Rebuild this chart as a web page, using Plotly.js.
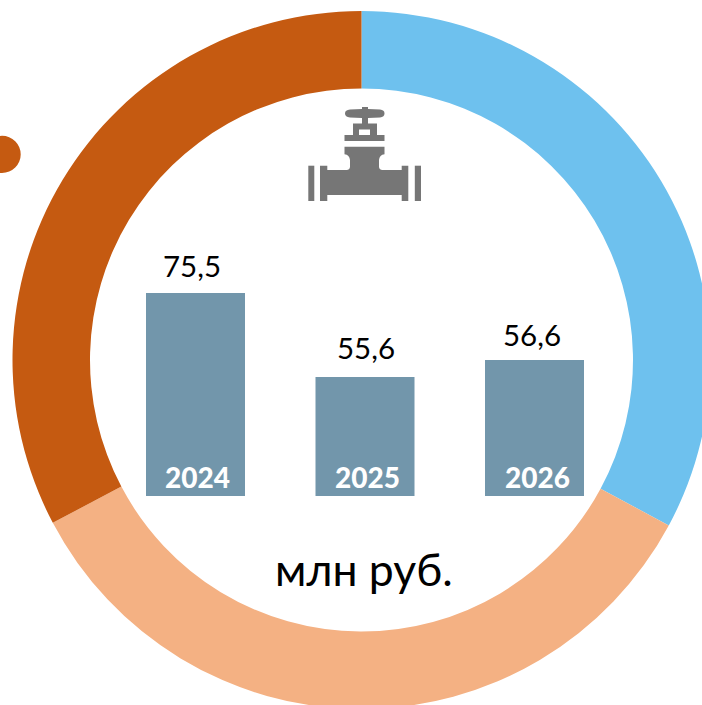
<!DOCTYPE html>
<html><head><meta charset="utf-8">
<script src="https://cdn.plot.ly/plotly-3.0.1.min.js"></script>
<style>html,body{margin:0;padding:0;width:702px;height:705px;overflow:hidden;background:#fff}</style>
</head><body><div id="chart"></div>
<script>
// Data
const ringLabels = ['A', 'B', 'C'];
const ringValues = [118.3, 123.9, 117.8];
const ringColors = ['#6EC1EE', '#F4B183', '#C55A11'];
const years = ['2024', '2025', '2026'];
const valueLabels = ['75,5', '55,6', '56,6'];
// Drawn bar heights as pictured (the source bars are not to the scale of their labels)
const barHeights = [75.5, 44.3, 50.6];
const unitText = 'млн руб.';

// Page geometry: figure slightly larger than the window, so the ring runs off the edge as in the reference
const W = 722, H = 720;
const px = x => x / W, py = y => 1 - y / H;
const P = (s) => s.replace(/(-?[\d.]+) (-?[\d.]+)/g, (m, a, b) => px(+a).toFixed(5) + ' ' + py(+b).toFixed(5));
const grey = '#767676';
const iconPaths = [
  'M345 113.5 Q345 110 350 109.6 L362 109 L362 107 L368 107 L368 109 L380 109.6 Q384.5 110 384.5 113.5 Q384.5 117 380 117.6 L368 118 L368 123.5 L377 123.5 L377 135 L384.5 135 L384.5 141 L344.5 141 L344.5 135 L353 135 L353 123.5 L362 123.5 L362 118 L350 117.6 Q345 117 345 113.5 Z M359 129.5 L370 129.5 L370 135 L359 135 Z',
  'M344.5 146.7 L384.5 146.7 L384.5 154.3 Q379.5 155 379 160 L379 166.5 Q379 170 382.5 170 L401.7 170 L401.7 165.7 L408.3 165.7 L408.3 201 L401.7 201 L401.7 195 L327.3 195 L327.3 201 L320 201 L320 165.7 L327.3 165.7 L327.3 170 L346.5 170 Q350 170 350 166.5 L350 160 Q349.5 155 344.5 154.3 Z',
  'M308.3 165.7 L314.3 165.7 L314.3 201 L308.3 201 Z',
  'M414.8 165.7 L421 165.7 L421 201 L414.8 201 Z'
];
const shapes = iconPaths.map(d => ({type:'path', xref:'paper', yref:'paper', path:P(d), fillcolor:grey, line:{width:0}}));
shapes.push({type:'circle', xref:'paper', yref:'paper', x0:px(-16.7), x1:px(20.7), y0:py(173), y1:py(135.8), fillcolor:'#C55A11', line:{width:0}});

const font = 'Lato, "Open Sans", sans-serif';
const annotations = [];
const labelShift = [-3.5, 0.5, -2.5];
const labelLift = [8, 10, 6];
const yearShift = [1.5, 2.5, 2.5];
years.forEach((y, i) => {
  annotations.push({x:i, y:barHeights[i], xref:'x', yref:'y', text:valueLabels[i], showarrow:false,
    xanchor:'center', yanchor:'bottom', xshift:labelShift[i], yshift:labelLift[i],
    font:{family:font, size:29.5, color:'#000'}});
  annotations.push({x:i, y:0, xref:'x', yref:'y', text:y, showarrow:false,
    xanchor:'center', yanchor:'bottom', xshift:yearShift[i], yshift:0,
    font:{family:font, size:28, color:'#fff', weight:900}});
});
annotations.push({x:px(364), y:py(568), xref:'paper', yref:'paper', text:unitText, showarrow:false,
  xanchor:'center', yanchor:'middle', font:{family:font, size:44.5, color:'#000'}});

const traces = [
  {type:'pie', labels:ringLabels, values:ringValues, sort:false, direction:'clockwise', rotation:0,
   hole:271.5/349, textinfo:'none', showlegend:false, hoverinfo:'none',
   marker:{colors:ringColors, line:{width:0}},
   domain:{x:[12.5/W, 710.5/W], y:[1-709/H, 1-11/H]}},
  {type:'bar', x:years, y:barHeights, width:99/169.5, marker:{color:'#7296AB', line:{width:0}},
   showlegend:false, hoverinfo:'none', cliponaxis:false}
];
const layout = {
  width:W, height:H, margin:{l:0,r:0,t:0,b:0,pad:0}, autosize:false,
  paper_bgcolor:'#fff', plot_bgcolor:'rgba(0,0,0,0)', showlegend:false,
  xaxis:{type:'category', range:[-0.5,2.5], domain:[110.75/W, 619.25/W], visible:false, fixedrange:true},
  yaxis:{range:[0,100], domain:[py(496), py(496)+ (100*203/75.5)/H], visible:false, fixedrange:true},
  shapes, annotations
};
Plotly.newPlot('chart', traces, layout, {displayModeBar:false, staticPlot:true});
</script></body></html>
